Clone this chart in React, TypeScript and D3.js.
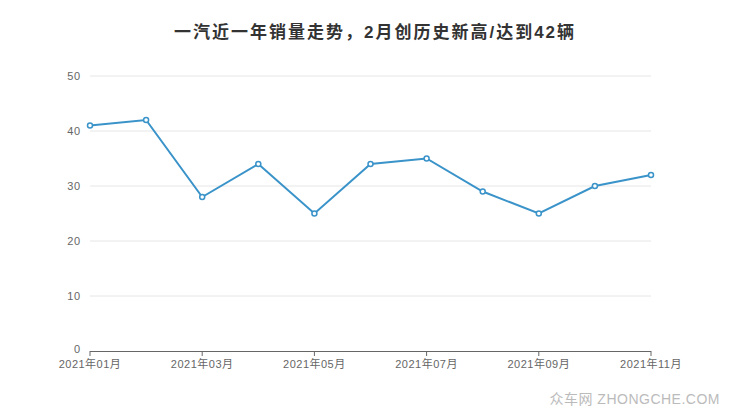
import React from "react";
import * as d3 from "d3";

const months = ["2021-01","2021-02","2021-03","2021-04","2021-05","2021-06","2021-07","2021-08","2021-09","2021-10","2021-11"];
const sales = [41, 42, 28, 34, 25, 34, 35, 29, 25, 30, 32];
const yTicks = [0, 10, 20, 30, 40, 50];
const xTickMonths = ["2021-01","2021-03","2021-05","2021-07","2021-09","2021-11"];
const title = "一汽近一年销量走势，2月创历史新高/达到42辆";

export default function App() {
  const W = 740, H = 417;
  const left = 90, right = 651, top = 76, bottom = 351;
  const xi = d3.scalePoint<string>().domain(months).range([left, right]);
  const y = d3.scaleLinear().domain([0, 50]).range([bottom, top]);
  const line = d3.line<number>().x((_, i) => xi(months[i]) as number).y((d) => y(d));
  const fmt = (m: string) => { const [yy, mm] = m.split("-"); return `${yy}年${mm}月`; };
  const font = "'Liberation Sans', 'Noto Sans CJK SC', sans-serif";
  return (
    <svg width={W} height={H} style={{ position: "absolute", left: 0, top: 0 }} fontFamily={font}>
      <rect width={W} height={H} fill="#fff" />
      <text x={375} y={38} textAnchor="middle" fontSize={17} fontWeight="bold" fill="#333" letterSpacing={2}>{title}</text>
      {yTicks.map((t) => (
        <g key={t}>
          {t > 0 && <line x1={left} x2={right} y1={y(t)} y2={y(t)} stroke="#e6e6e6" strokeWidth={1} />}
          <text x={81} y={y(t) + (t === 0 ? 2 : 4)} textAnchor="end" fontSize={11} fill="#666" letterSpacing={0.8}>{t}</text>
        </g>
      ))}
      <line x1={left} x2={right} y1={bottom + 0.5} y2={bottom + 0.5} stroke="#666" strokeWidth={1} />
      {xTickMonths.map((m) => (
        <g key={m}>
          <line x1={xi(m)} x2={xi(m)} y1={bottom} y2={bottom + 5} stroke="#666" />
          <text x={xi(m)} y={bottom + 17} textAnchor="middle" fontSize={11} fill="#666" letterSpacing={0.5}>{fmt(m)}</text>
        </g>
      ))}
      <path d={line(sales) || ""} fill="none" stroke="#3a93c9" strokeWidth={2} />
      {sales.map((v, i) => (
        <circle key={i} cx={xi(months[i])} cy={y(v)} r={2.5} fill="#fff" stroke="#3a93c9" strokeWidth={1.5} />
      ))}
      <text x={720} y={404} textAnchor="end" fontSize={14} fill="#bbb" letterSpacing={0.5}>众车网 ZHONGCHE.COM</text>
    </svg>
  );
}
